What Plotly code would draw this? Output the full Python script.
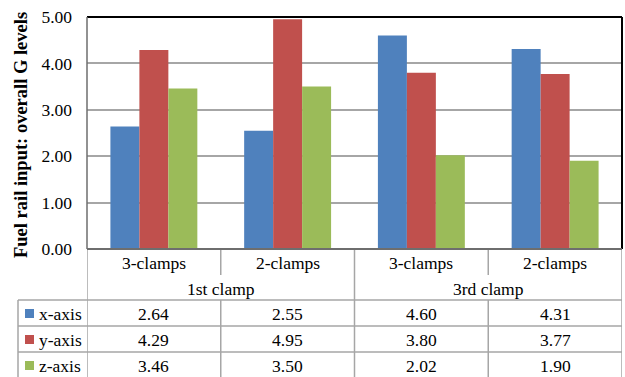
import plotly.graph_objects as go

# Data
categories = ["3-clamps", "2-clamps", "3-clamps", "2-clamps"]
groups = ["1st clamp", "3rd clamp"]
series_names = ["x-axis", "y-axis", "z-axis"]
x_axis_vals = [2.64, 2.55, 4.60, 4.31]
y_axis_vals = [4.29, 4.95, 3.80, 3.77]
z_axis_vals = [3.46, 3.50, 2.02, 1.90]
series_colors = ["#4F81BD", "#C0504D", "#9BBB59"]
y_ticks = [0, 1, 2, 3, 4, 5]

series_vals = [x_axis_vals, y_axis_vals, z_axis_vals]
positions = list(range(len(categories)))

W, H = 625, 377
L, R, T, B = 87, 3, 17, 128
PW, PH = W - L - R, H - T - B
FONT = "'Liberation Serif', 'Times New Roman', Times, 'DejaVu Serif', serif"
FS = 17.5
GRID = "#a6a6a6"


def py(p):
    """pixel row -> paper y"""
    return (H - B - p) / PH


def px(p):
    """pixel column -> paper x"""
    return (p - L) / PW


fig = go.Figure()
for name, vals, col in zip(series_names, series_vals, series_colors):
    fig.add_trace(go.Bar(x=positions, y=vals, name=name, marker_color=col,
                         marker_line_width=0, showlegend=False))

shapes = []
line = dict(color=GRID, width=1.5)

# table column lines (category boundaries)
bounds = [i - 0.5 for i in range(len(categories) + 1)]
y_top, y_cat_end, y_hdr_end, y_bottom = 249, 275, 300, 380
for i, b in enumerate(bounds):
    if i in (0, 2, 4):
        shapes.append(dict(type="line", xref="x", yref="paper", x0=b, x1=b,
                           y0=py(y_top), y1=py(y_bottom), line=line))
    else:
        shapes.append(dict(type="line", xref="x", yref="paper", x0=b, x1=b,
                           y0=py(y_top), y1=py(y_cat_end), line=line))
        shapes.append(dict(type="line", xref="x", yref="paper", x0=b, x1=b,
                           y0=py(y_hdr_end), y1=py(y_bottom), line=line))

# legend column and row lines
row_lines = [300, 326, 352]
shapes.append(dict(type="line", xref="paper", yref="paper", x0=px(18), x1=px(18),
                   y0=py(300), y1=py(y_bottom), line=line))
for r in row_lines:
    shapes.append(dict(type="line", xref="paper", yref="paper", x0=px(18), x1=1,
                       y0=py(r), y1=py(r), line=line))

# plot area frame
shapes.append(dict(type="line", xref="paper", yref="paper", x0=0, x1=1, y0=1, y1=1,
                   line=dict(color="#000000", width=2)))
shapes.append(dict(type="line", xref="paper", yref="paper", x0=1, x1=1, y0=0, y1=1,
                   line=dict(color="#000000", width=2)))
shapes.append(dict(type="line", xref="paper", yref="paper", x0=0, x1=0, y0=0, y1=1,
                   line=dict(color="#6e6e6e", width=1.5)))
shapes.append(dict(type="line", xref="paper", yref="paper", x0=0, x1=1, y0=0, y1=0,
                   line=dict(color="#6e6e6e", width=2)))

annotations = []
tfont = dict(family=FONT, size=FS, color="#000000")

# category labels
for pos, cat in zip(positions, categories):
    annotations.append(dict(x=pos, y=py(262.5), xref="x", yref="paper", text=cat,
                            showarrow=False, font=tfont, xanchor="center", yanchor="middle"))
# group labels
for gi, g in enumerate(groups):
    annotations.append(dict(x=gi * 2 + 0.5, y=py(289), xref="x", yref="paper", text=g,
                            showarrow=False, font=tfont, xanchor="center", yanchor="middle"))

# data rows with legend keys
row_centers = [313.5, 339.5, 365.5]
for name, vals, col, rc in zip(series_names, series_vals, series_colors, row_centers):
    shapes.append(dict(type="rect", xref="paper", yref="paper", x0=px(25), x1=px(34),
                       y0=py(rc + 4.5), y1=py(rc - 4.5), fillcolor=col, line=dict(width=0)))
    annotations.append(dict(x=px(37), y=py(rc), xref="paper", yref="paper", text=name,
                            showarrow=False, font=tfont, xanchor="left", yanchor="middle"))
    for pos, v in zip(positions, vals):
        annotations.append(dict(x=pos, y=py(rc), xref="x", yref="paper", text=f"{v:.2f}",
                                showarrow=False, font=tfont, xanchor="center", yanchor="middle"))

# y-axis title
annotations.append(dict(x=px(21), y=py(135), xref="paper", yref="paper",
                        text="<b>Fuel rail input: overall G levels</b>", textangle=-90,
                        showarrow=False, font=dict(family=FONT, size=18.5, color="#000000"),
                        xanchor="center", yanchor="middle"))

fig.update_layout(
    width=W, height=H,
    margin=dict(l=L, r=R, t=T, b=B),
    paper_bgcolor="white", plot_bgcolor="white",
    barmode="group", bargap=0.35, bargroupgap=0,
    font=dict(family=FONT, size=FS, color="#000000"),
    shapes=shapes, annotations=annotations,
    xaxis=dict(range=[-0.5, len(categories) - 0.5], showticklabels=False, showgrid=False,
               zeroline=False, ticks="", fixedrange=True),
    yaxis=dict(range=[0, 5], tickvals=y_ticks, tickformat=".2f", showgrid=True,
               gridcolor=GRID, gridwidth=1.5, zeroline=False, ticks="",
               ticklabelstandoff=14, tickfont=dict(family=FONT, size=FS, color="#000000")),
)

fig.write_html("out.html")
